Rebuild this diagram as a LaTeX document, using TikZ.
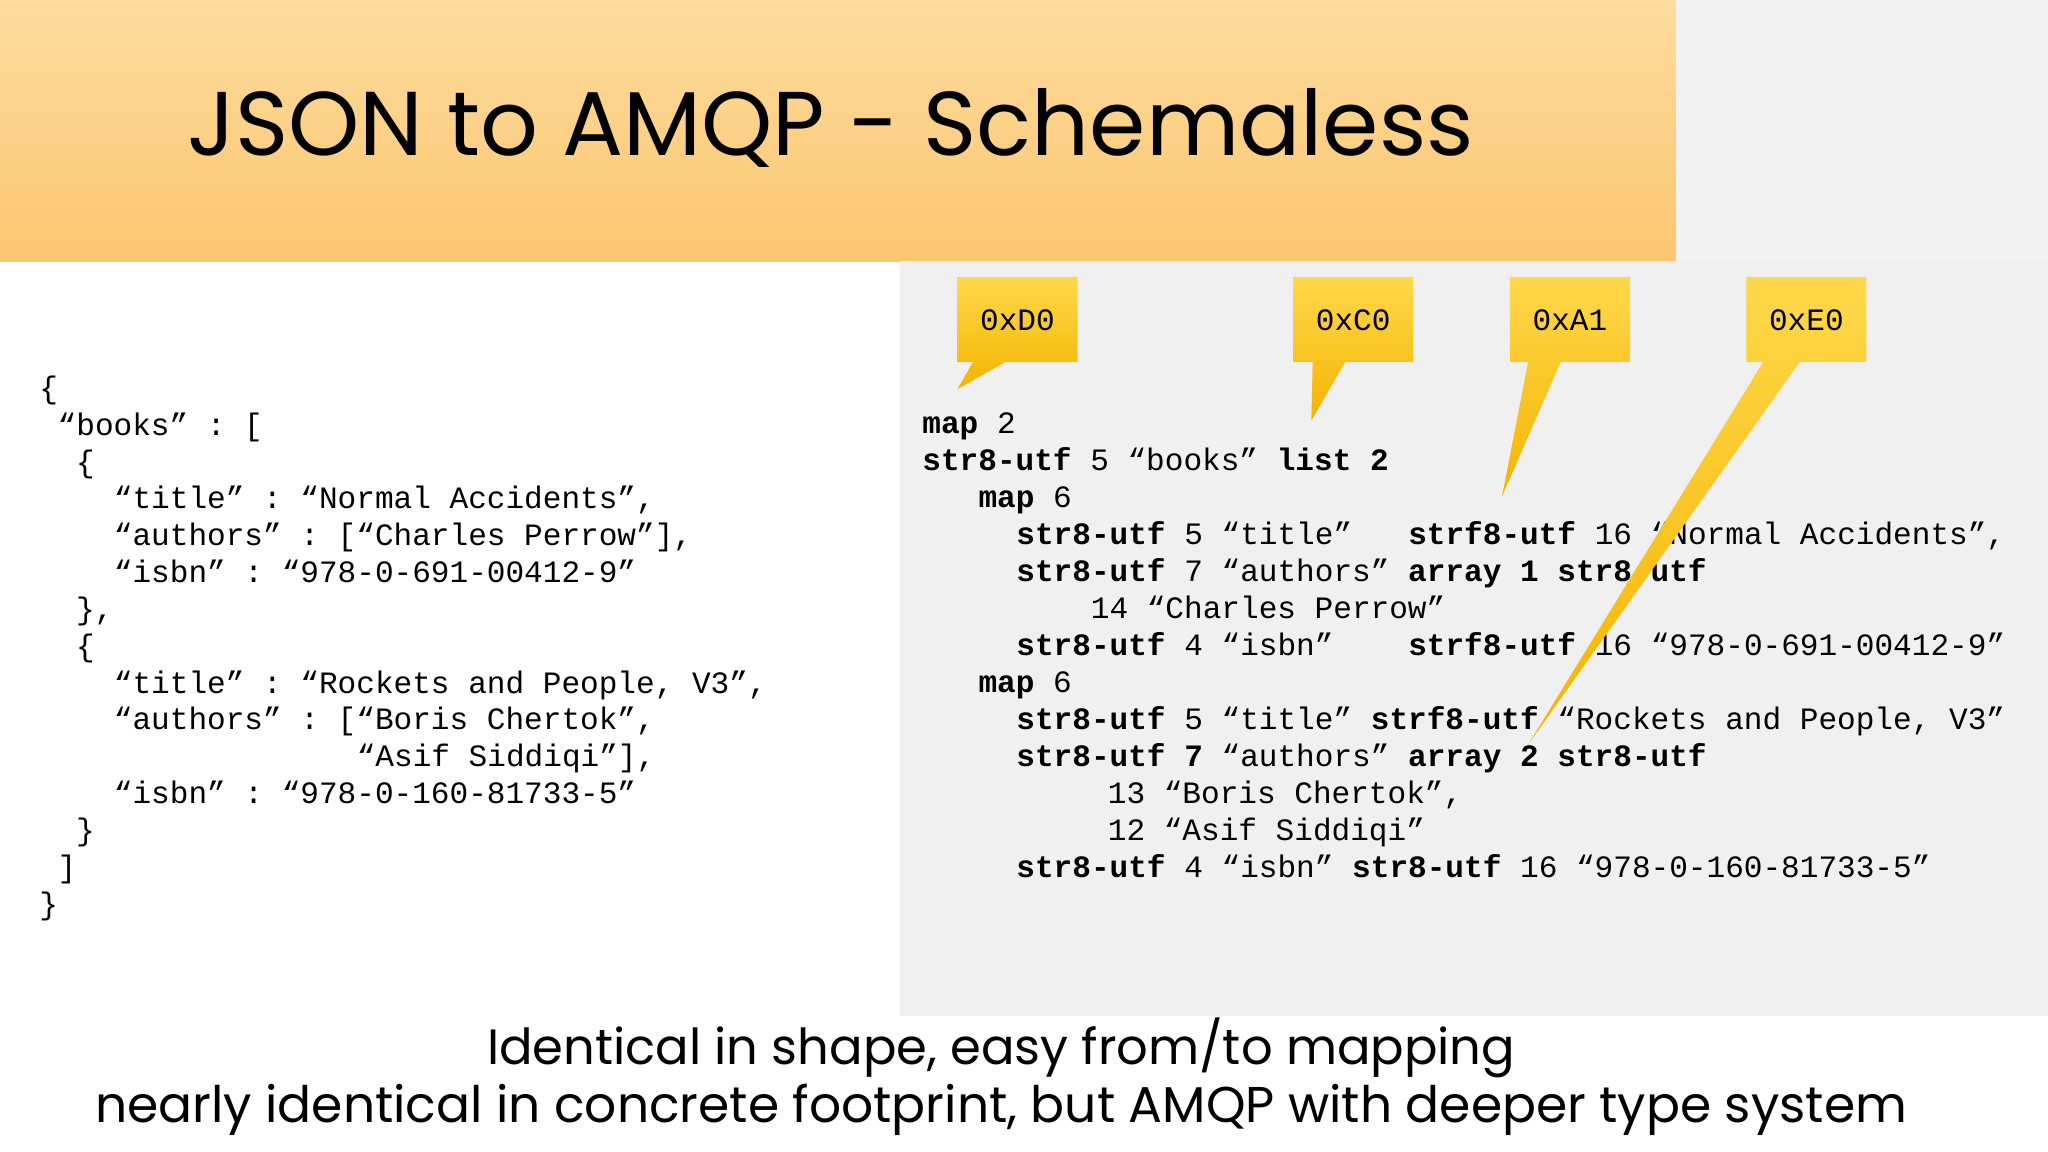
\documentclass[tikz,border=0pt]{standalone}
\usepackage{fontspec}
\setmainfont{Poppins}
\setmonofont{Liberation Mono}
\usepackage{graphicx}
\begin{document}
\begin{tikzpicture}[x=1pt,y=-1pt,
  code/.style={anchor=base west,inner sep=0pt,font=\fontsize{23.8}{28}\ttfamily},
  lbl/.style={font=\fontsize{23.8}{28}\ttfamily,inner sep=0pt}]
\definecolor{hdrA}{HTML}{FDDC9E}\definecolor{hdrB}{HTML}{FBC670}
\definecolor{cA}{HTML}{FFD84A}\definecolor{cB}{HTML}{F4B400}
\useasboundingbox (0,0) rectangle (1568,882);
\fill[white] (0,0) rectangle (1568,882);
\fill[gray!10] (1283,0) rectangle (1568,200);
\shade[top color=hdrA,bottom color=hdrB] (0,0) rectangle (1283,200);
\fill[gray!12] (689,200) rectangle (1568,778);
\node[anchor=west,inner sep=0pt] (title) at (143,98) {\resizebox{985pt}{!}{JSON to AMQP - Schemaless}};
% JSON
\foreach \x/\t [count=\i from 0] in {%
30/{\{},
44/{“books” : [},
58/{\{},
87/{“title” : “Normal Accidents”,},
87/{“authors” : [“Charles Perrow”],},
87/{“isbn” : “978-0-691-00412-9”},
58/{\},},
58/{\{},
87/{“title” : “Rockets and People, V3”,},
87/{“authors” : [“Boris Chertok”,},
273/{“Asif Siddiqi”],},
87/{“isbn” : “978-0-160-81733-5”},
58/{\}},
44/{]},
30/{\}}}
{\node[code] (j\i) at (\x,{305+28.2*\i}) {\t};}
% AMQP
\node[code] (a0) at (706,332) {\textbf{map} 2};
\node[code] (a1) at (706,360.3) {\textbf{str8-utf} 5 “books” \textbf{list 2}};
\node[code] (a2) at (749,388.6) {\textbf{map} 6};
\node[code] (a3) at (778,417) {\textbf{str8-utf} 5 “title”\hspace{42.9pt}\textbf{strf8-utf} 16 “Normal Accidents”,};
\node[code] (a4) at (778,445.3) {\textbf{str8-utf} 7 “authors” \textbf{array 1 str8-utf}};
\node[code] (a5) at (835,473.6) {14 “Charles Perrow”};
\node[code] (a6) at (778,502) {\textbf{str8-utf} 4 “isbn”\hspace{57.2pt}\textbf{strf8-utf} 16 “978-0-691-00412-9”};
\node[code] (a7) at (749,530.3) {\textbf{map} 6};
\node[code] (a8) at (778,558.6) {\textbf{str8-utf} 5 “title” \textbf{strf8-utf} “Rockets and People, V3”};
\node[code] (a9) at (778,587) {\textbf{str8-utf 7} “authors” \textbf{array 2 str8-utf}};
\node[code] (a10) at (848,615.3) {13 “Boris Chertok”,};
\node[code] (a11) at (848,643.6) {12 “Asif Siddiqi”};
\node[code] (a12) at (778,672) {\textbf{str8-utf} 4 “isbn” \textbf{str8-utf} 16 “978-0-160-81733-5”};
% callouts
\foreach \n/\x/\px/\py/\pa/\pb/\txt in {c1/733/733/298/745/770/0xD0,c2/990/1004/322/1005/1030/0xC0,c3/1156/1150/380/1170/1195/0xA1,c4/1337/1170/570/1350/1378/0xE0}{
  \shade[top color=cA,bottom color=cB] (\x,212) -- ++(92,0) -- ++(0,65) -- (\pb,277) -- (\px,\py) -- (\pa,277) -- (\x,277) -- cycle;
  \node[lbl] (\n) at (\x+46,245) {\txt};
}
\node[inner sep=0pt] (b1) at (766.5,802) {\resizebox{787pt}{!}{Identical in shape, easy from/to mapping}};
\node[inner sep=0pt] (b2) at (766.5,850) {\resizebox{1387pt}{!}{nearly identical in concrete footprint, but AMQP with deeper type system}};
\end{tikzpicture}
\end{document}
